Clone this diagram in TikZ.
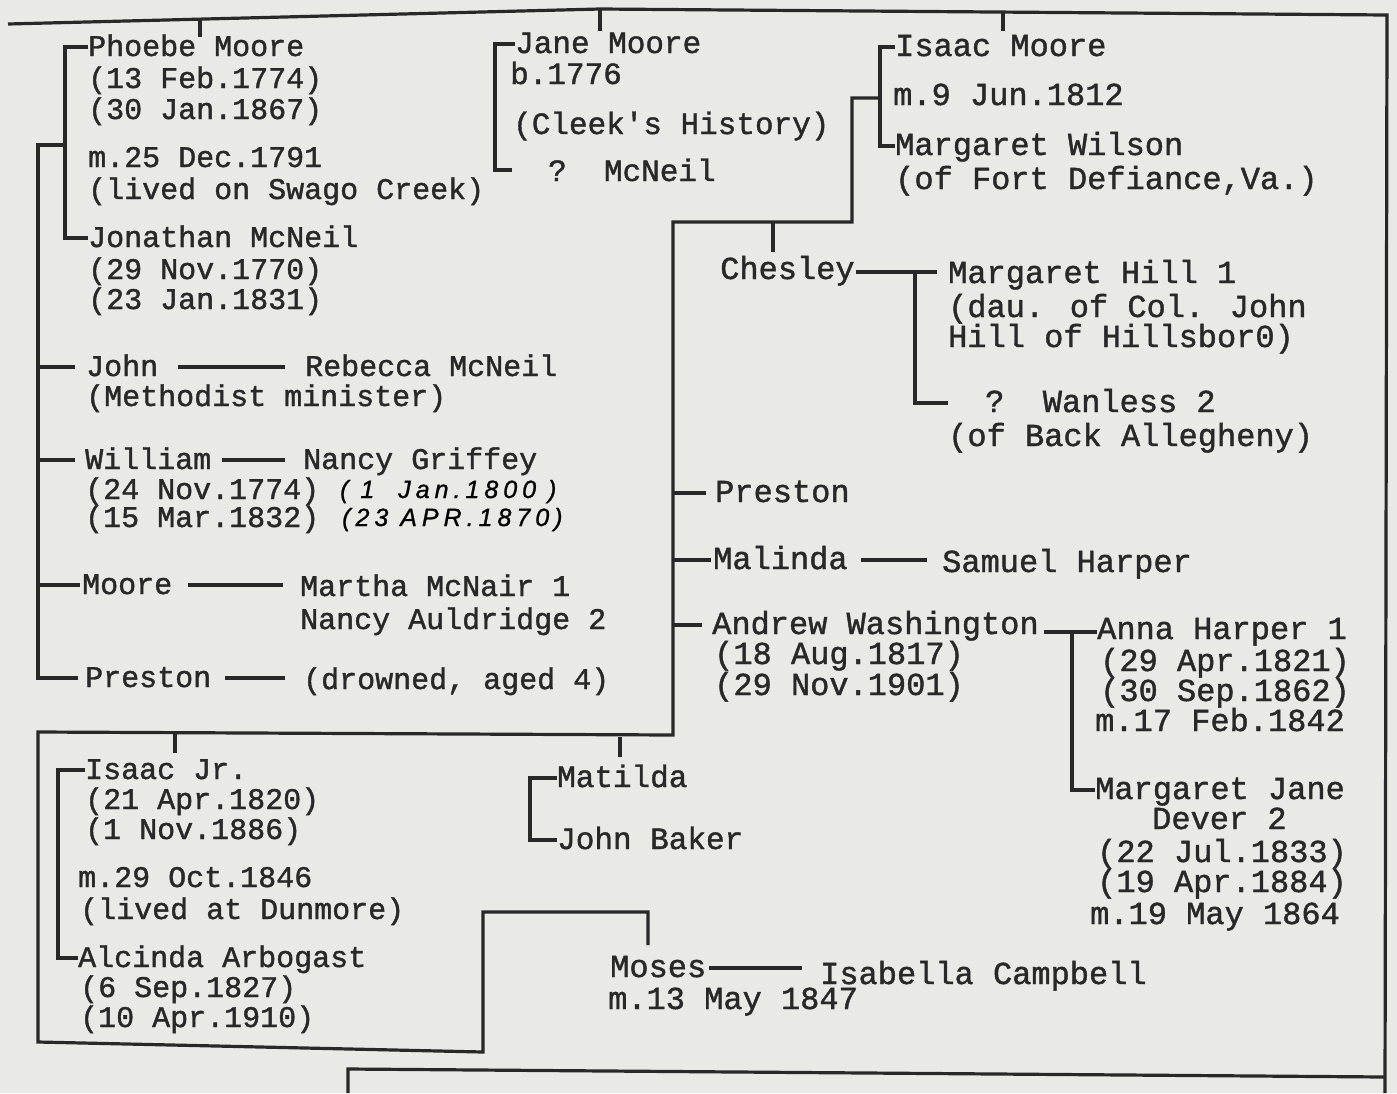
\documentclass[tikz,border=0pt]{standalone}
\usepackage{fontspec}
\newfontfamily\tyf[FakeBold=1.3]{Liberation Mono}
\newfontfamily\handf[LetterSpace=20,FakeBold=1]{Liberation Sans}
\definecolor{paper}{RGB}{233,233,230}
\definecolor{ink}{RGB}{40,40,40}
\tikzset{
 tA/.style={anchor=west, inner sep=0pt, text height=18pt, text depth=0pt, text=ink, font=\tyf\fontsize{30}{31}\selectfont},
 tB/.style={tA, font=\tyf\fontsize{31}{32}\selectfont},
 tC/.style={tA, font=\tyf\fontsize{32}{33}\selectfont},
 hw/.style={anchor=west, inner sep=0pt, text height=18pt, text depth=0pt, text=black, font=\handf\itshape\fontsize{25}{26}\selectfont},
 ln/.style={draw=ink, line width=3.2pt},
}
\begin{document}
\begin{tikzpicture}[x=1pt,y=-1pt]
\fill[paper] (0,0) rectangle (1397,1093);
\useasboundingbox (0,0) rectangle (1397,1093);

% ---------- left column ----------
\node[tA] (p1) at (88,47) {Phoebe Moore};
\node[tA] (p2) at (88,79) {(13 Feb.1774)};
\node[tA] (p3) at (88,110) {(30 Jan.1867)};
\node[tA] (p4) at (88,158) {m.25 Dec.1791};
\node[tA] (p5) at (88,190) {(lived on Swago Creek)};
\node[tA] (jm1) at (88,238) {Jonathan McNeil};
\node[tA] (jm2) at (88,270) {(29 Nov.1770)};
\node[tA] (jm3) at (88,300) {(23 Jan.1831)};
\node[tA] (john) at (86,367) {John};
\node[tA] (rm) at (305,367) {Rebecca McNeil};
\node[tA] (meth) at (86,397) {(Methodist minister)};
\node[tA] (will) at (85,460) {William};
\node[tA] (ng) at (303,460) {Nancy Griffey};
\node[tA] (w2) at (85,490) {(24 Nov.1774)};
\node[hw] (w2h) at (340,489) {(\ 1\ \ Jan.1800\ )};
\node[tA] (w3) at (85,518) {(15 Mar.1832)};
\node[hw] (w3h) at (342,517) {(23 APR.1870)};
\node[tA] (moore) at (82,585) {Moore};
\node[tA] (mm) at (300,587) {Martha McNair 1};
\node[tA] (na) at (300,620) {Nancy Auldridge 2};
\node[tA] (pres) at (85,678) {Preston};
\node[tA] (dr) at (303,680) {(drowned, aged 4)};

% ---------- Jane ----------
\node[tB] (jane1) at (515,44) {Jane Moore};
\node[tB] (jane2) at (510,75) {b.1776};
\node[tB] (jane3) at (513,125) {(Cleek's History)};
\node[tB] (jane4) at (548,172) {?\ \ McNeil};

% ---------- Isaac ----------
\node[tC] (im1) at (895,47) {Isaac Moore};
\node[tC] (im2) at (893,96) {m.9 Jun.1812};
\node[tC] (im3) at (895,146) {Margaret Wilson};
\node[tC] (im4) at (895,180) {(of Fort Defiance,Va.)};

% ---------- Chesley etc ----------
\node[tC] (ch) at (720,270) {Chesley};
\node[tC] (mh1) at (948,274) {Margaret Hill 1};
\node[tC] (mh2) at (948,308) {(dau. of Col. John};
\node[tC] (mh3) at (948,338) {Hill of Hillsbor0)};
\node[tC] (wan) at (985,403) {?\ \ Wanless 2};
\node[tC] (wan2) at (948,437) {(of Back Allegheny)};
\node[tC] (pr2) at (715,493) {Preston};
\node[tC] (mal) at (713,560) {Malinda};
\node[tC] (sh) at (942,563) {Samuel Harper};
\node[tC] (aw1) at (712,625) {Andrew Washington};
\node[tC] (aw2) at (714,655) {(18 Aug.1817)};
\node[tC] (aw3) at (714,686) {(29 Nov.1901)};
\node[tC] (ah1) at (1097,630) {Anna Harper 1};
\node[tC] (ah2) at (1100,662) {(29 Apr.1821)};
\node[tC] (ah3) at (1100,692) {(30 Sep.1862)};
\node[tC] (ah4) at (1095,722) {m.17 Feb.1842};
\node[tC] (mj1) at (1095,790) {Margaret Jane};
\node[tC] (mj2) at (1152,820) {Dever 2};
\node[tC] (mj3) at (1097,853) {(22 Jul.1833)};
\node[tC] (mj4) at (1097,883) {(19 Apr.1884)};
\node[tC] (mj5) at (1090,915) {m.19 May 1864};

% ---------- bottom left ----------
\node[tA] (ij1) at (85,770) {Isaac Jr.};
\node[tA] (ij2) at (85,800) {(21 Apr.1820)};
\node[tA] (ij3) at (85,830) {(1 Nov.1886)};
\node[tA] (ij4) at (78,878) {m.29 Oct.1846};
\node[tA] (ij5) at (80,910) {(lived at Dunmore)};
\node[tA] (aa1) at (78,958) {Alcinda Arbogast};
\node[tA] (aa2) at (80,988) {(6 Sep.1827)};
\node[tA] (aa3) at (80,1018) {(10 Apr.1910)};
\node[tB] (mat) at (557,778) {Matilda};
\node[tB] (jb) at (557,840) {John Baker};
\node[tC] (mos) at (610,968) {Moses};
\node[tC] (ic) at (820,975) {Isabella Campbell};
\node[tC] (mos2) at (608,1000) {m.13 May 1847};

% ---------- coordinates ----------
\coordinate (tl) at (8,24);
\coordinate (tm) at (600,9);
\coordinate (tr) at (1387,15);
\coordinate (brr) at (1385,1093);
\coordinate (k1) at (200,19);
\coordinate (k1e) at (200,37);
\coordinate (k3) at (1003,12);
\coordinate (k3e) at (1003,31);
\coordinate (k2e) at (600,31);
\coordinate (bP) at (65,145);
\coordinate (bL) at (38,145);
\coordinate (jB) at (495,170);
\coordinate (jBe) at (512,170);
\coordinate (iB) at (880,98);
\coordinate (c1) at (852,98);
\coordinate (c2) at (852,222);
\coordinate (c3) at (673,222);
\coordinate (c4) at (673,735);
\coordinate (c5) at (38,732);
\coordinate (c6) at (38,1042);
\coordinate (c7) at (483,1052);
\coordinate (c8) at (483,912);
\coordinate (c9) at (648,912);
\coordinate (c10) at (648,945);
\coordinate (kc) at (773,222);
\coordinate (kce) at (773,252);
\coordinate (chB) at (915,272);
\coordinate (wS) at (948,403);
\coordinate (aB) at (1072,632);
\coordinate (k4) at (175,734);
\coordinate (k4e) at (175,753);
\coordinate (k5) at (620,737);
\coordinate (k5e) at (620,757);
\coordinate (ijB) at (58,860);
\coordinate (mB) at (530,810);
\coordinate (bb1) at (348,1093);
\coordinate (bb2) at (348,1069);
\coordinate (bb3) at (1385,1077);

% ---------- connectors ----------
\draw[ln] (tl) -- (tm) -- (tr) -- (brr);
\draw[ln] (k1) -- (k1e);
\draw[ln] (tm) -- (k2e);
\draw[ln] (k3) -- (k3e);
% Phoebe / Jonathan
\draw[ln] (p1.west) -| (bP) |- (jm1.west);
\draw[ln] (bP) -- (bL) |- ([xshift=-7pt]pres.west);
\draw[ln] (bL |- john.west) -- ([xshift=-11pt]john.west);
\draw[ln] ([xshift=20pt]john.east) -- ([xshift=-20pt]rm.west);
\draw[ln] (bL |- will.west) -- ([xshift=-10pt]will.west);
\draw[ln] ([xshift=11pt]will.east) -- ([xshift=-18pt]ng.west);
\draw[ln] (bL |- moore.west) -- ([xshift=-2pt]moore.west);
\draw[ln] ([xshift=16pt]moore.east) -- ([xshift=-17pt]mm.west |- moore.east);
\draw[ln] ([xshift=14pt]pres.east) -- ([xshift=-18pt]dr.west |- pres.east);
% Jane
\draw[ln] (jane1.west) -| (jB) -- (jBe);
% Isaac
\draw[ln] (im1.west) -| (iB) |- (im3.west);
\draw[ln] (iB) -- (c1) -- (c2) -- (c3) -- (c4) -- (c5) -- (c6) -- (c7) -- (c8) -- (c9) -- (c10);
% Chesley
\draw[ln] (kc) -- (kce);
\draw[ln] ([xshift=1pt]ch.east |- chB) -- ([xshift=-11pt]mh1.west |- chB);
\draw[ln] (chB) |- (wS);
% children of Isaac
\draw[ln] (c3 |- pr2.west) -- ([xshift=-9pt]pr2.west);
\draw[ln] (c3 |- mal.west) -- ([xshift=-2pt]mal.west);
\draw[ln] ([xshift=13pt]mal.east) -- ([xshift=-15pt]sh.west |- mal.east);
\draw[ln] (c3 |- aw1.west) -- ([xshift=-10pt]aw1.west);
\draw[ln] ([xshift=5pt]aw1.east |- aB) -- (ah1.west |- aB);
\draw[ln] (aB) |- (mj1.west);
% bottom-left
\draw[ln] (k4) -- (k4e);
\draw[ln] (k5) -- (k5e);
\draw[ln] (ij1.west) -| (ijB) |- (aa1.west);
\draw[ln] (mat.west) -| (mB) |- (jb.west);
\draw[ln] ([xshift=3pt]mos.east) -- ([xshift=-18pt]ic.west |- mos.east);
\draw[ln] (bb1) -- (bb2) -- (bb3);
\end{tikzpicture}
\end{document}
